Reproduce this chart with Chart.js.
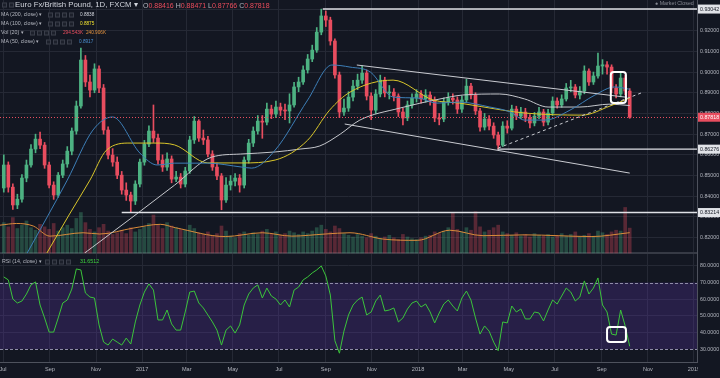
<!DOCTYPE html>
<html>
<head>
<meta charset="utf-8">
<title>Euro Fx/British Pound, 1D</title>
<script src="https://cdn.jsdelivr.net/npm/chart.js@4.4.1/dist/chart.umd.min.js"></script>
<style>
html,body{margin:0;padding:0;background:#131722;overflow:hidden;}
#wrap{position:relative;width:720px;height:378px;}
#c{position:absolute;left:0;top:0;}
.t{position:absolute;white-space:nowrap;font-family:"Liberation Sans",Arial,sans-serif;line-height:1;transform:translateY(-50%);}
.s{font-size:5.3px;color:#b2b5be;}
.v{font-size:4.7px;}
.r{color:#eb4d5c;}
.ic{position:absolute;width:5px;height:5px;border:1px solid #3a3e4a;background:#1c202b;box-sizing:border-box;transform:translateY(-50%);}
</style>
</head>
<body>
<div id="wrap">
<canvas id="c" width="720" height="378"></canvas>
<div class="t" style="left:15px;top:5px;font-size:7.8px;color:#d1d4dc">Euro Fx/British Pound, 1D, FXCM ▾</div>
<div class="t" style="left:143px;top:5px;font-size:7px;color:#b2b5be">O<span class="r">0.88416</span> H<span class="r">0.88471</span> L<span class="r">0.87766</span> C<span class="r">0.87818</span></div>
<div class="t s" style="left:1px;top:15px">MA (200, close) ▾</div>
<div class="t s v" style="left:80px;top:15px;color:#d1d4dc">0.8838</div>
<div class="t s" style="left:1px;top:23.5px">MA (100, close) ▾</div>
<div class="t s v" style="left:80px;top:23.5px;color:#f0e130">0.8875</div>
<div class="t s" style="left:1px;top:32.5px">Vol (20) ▾</div>
<div class="t s v" style="left:63px;top:32.5px;color:#eb4d5c">294.543K</div>
<div class="t s v" style="left:86px;top:32.5px;color:#e3913c">240.906K</div>
<div class="t s" style="left:1px;top:42px">MA (50, close) ▾</div>
<div class="t s v" style="left:79px;top:42px;color:#4a8fd0">0.8917</div>
<div class="t s" style="left:2px;top:262px">RSI (14, close) ▾</div>
<div class="t s" style="left:80px;top:262px;color:#3fd43f">31.6512</div>
<div class="t s" style="left:655px;top:4px;color:#868993">● Market Closed</div>
</div>
<script>
// ---------- DATA (x values are days since 2016-07-01) ----------
const monthTickDays   = [0, 62, 123, 184, 243, 304, 365, 427, 488, 549, 608, 669, 730, 792, 853, 914];
const monthTickLabels = ['Jul','Sep','Nov','2017','Mar','May','Jul','Sep','Nov','2018','Mar','May','Jul','Sep','Nov','2019'];
const priceTicks = [0.82, 0.83, 0.84, 0.85, 0.86, 0.87, 0.88, 0.89, 0.90, 0.91, 0.92, 0.93];
const rsiTicks   = [30, 40, 50, 60, 70, 80];

const FIRST_DAY = 1, STEP_DAYS = 6, FIRST_OPEN = 0.8440;
const closes = [
0.8551,0.8444,0.8358,0.8386,0.8488,0.8551,0.8628,0.8676,0.8647,0.8551,
0.8454,0.8406,0.8502,0.8556,0.8618,0.8715,0.8836,0.9058,0.8952,0.8913,
0.9015,0.8923,0.8720,0.8599,0.8565,0.8502,0.8430,0.8406,0.8377,0.8459,
0.8565,0.8652,0.8715,0.8681,0.8575,0.8541,0.8580,0.8483,0.8493,0.8459,
0.8522,0.8672,0.8763,0.8681,0.8672,0.8604,0.8541,0.8498,0.8382,0.8454,
0.8473,0.8488,0.8454,0.8575,0.8657,0.8715,0.8763,0.8758,0.8821,0.8797,
0.8831,0.8816,0.8812,0.8841,0.8928,0.8952,0.9010,0.9063,0.9106,0.9193,
0.9271,0.9251,0.9150,0.8986,0.8807,0.8826,0.8879,0.8932,0.8961,0.8995,
0.8884,0.8816,0.8894,0.8961,0.8899,0.8903,0.8884,0.8807,0.8778,0.8841,
0.8874,0.8894,0.8870,0.8889,0.8865,0.8778,0.8773,0.8855,0.8874,0.8865,
0.8821,0.8865,0.8932,0.8889,0.8812,0.8734,0.8773,0.8739,0.8696,0.8647,
0.8739,0.8729,0.8821,0.8787,0.8807,0.8778,0.8754,0.8787,0.8807,0.8758,
0.8802,0.8860,0.8841,0.8870,0.8923,0.8928,0.8889,0.8908,0.9005,0.8952,
0.8981,0.9029,0.9035,0.9024,0.8923,0.8894,0.8971,0.8908,0.87818];
const highs = [
0.8600,0.8566,0.8460,0.8410,0.8505,0.8575,0.8650,0.8700,0.8710,0.8660,
0.8565,0.8470,0.8515,0.8575,0.8640,0.8730,0.8860,0.9116,0.9080,0.8985,
0.9040,0.9030,0.8940,0.8735,0.8630,0.8590,0.8520,0.8465,0.8420,0.8475,
0.8580,0.8670,0.8740,0.8841,0.8700,0.8600,0.8610,0.8595,0.8520,0.8510,
0.8540,0.8690,0.8785,0.8770,0.8720,0.8690,0.8620,0.8560,0.8510,0.8490,
0.8500,0.8510,0.8505,0.8590,0.8675,0.8735,0.8790,0.8790,0.8850,0.8840,
0.8860,0.8850,0.8845,0.8895,0.8950,0.8975,0.9030,0.9085,0.9130,0.9215,
0.9304,0.9295,0.9265,0.9160,0.9000,0.8870,0.8905,0.8960,0.8990,0.9030,
0.9010,0.8900,0.8915,0.8985,0.8975,0.8935,0.8920,0.8895,0.8825,0.8860,
0.8895,0.8915,0.8910,0.8915,0.8905,0.8880,0.8800,0.8875,0.8900,0.8895,
0.8880,0.8885,0.8965,0.8945,0.8900,0.8825,0.8800,0.8790,0.8755,0.8710,
0.8760,0.8765,0.8840,0.8835,0.8830,0.8825,0.8795,0.8805,0.8830,0.8820,
0.8820,0.8880,0.8875,0.8890,0.8945,0.8960,0.8940,0.8930,0.9030,0.9015,
0.9000,0.9092,0.9060,0.9050,0.9035,0.8940,0.9000,0.8985,0.8920];
const lows = [
0.8420,0.8420,0.8336,0.8340,0.8372,0.8470,0.8540,0.8610,0.8630,0.8535,
0.8440,0.8385,0.8395,0.8490,0.8540,0.8600,0.8700,0.8825,0.8930,0.8880,
0.8900,0.8900,0.8700,0.8580,0.8545,0.8485,0.8410,0.8380,0.8321,0.8360,
0.8445,0.8550,0.8640,0.8660,0.8555,0.8520,0.8525,0.8465,0.8470,0.8440,
0.8445,0.8510,0.8655,0.8665,0.8650,0.8590,0.8525,0.8480,0.8335,0.8370,
0.8430,0.8450,0.8420,0.8440,0.8560,0.8640,0.8700,0.8680,0.8745,0.8775,
0.8780,0.8790,0.8770,0.8754,0.8830,0.8905,0.8940,0.8995,0.9050,0.9095,
0.9180,0.9220,0.9130,0.8970,0.8780,0.8790,0.8810,0.8860,0.8915,0.8945,
0.8865,0.8770,0.8800,0.8880,0.8880,0.8870,0.8860,0.8785,0.8745,0.8765,
0.8825,0.8855,0.8850,0.8855,0.8840,0.8760,0.8745,0.8760,0.8840,0.8845,
0.8800,0.8805,0.8855,0.8870,0.8795,0.8715,0.8720,0.8720,0.8680,0.8628,
0.8640,0.8705,0.8720,0.8770,0.8775,0.8760,0.8730,0.8740,0.8775,0.8740,
0.8745,0.8790,0.8825,0.8830,0.8860,0.8905,0.8875,0.8870,0.8895,0.8935,
0.8940,0.8970,0.8990,0.8990,0.8900,0.8875,0.8880,0.8890,0.87766];
const volumesK = [
360,310,420,290,330,380,300,270,340,310,
280,350,260,300,330,290,410,480,360,280,
250,300,340,260,220,240,270,230,300,250,
280,310,350,450,330,290,360,320,300,280,
270,330,290,240,220,250,210,230,320,260,
200,180,230,250,210,240,220,260,280,230,
250,210,230,260,240,220,250,230,260,300,
330,280,250,320,290,230,210,190,220,200,
180,230,200,170,190,210,180,160,220,190,
170,160,180,200,210,250,230,260,300,480,
280,250,300,270,490,310,250,270,300,330,
250,230,210,240,200,220,190,230,210,200,
220,190,210,230,200,220,250,190,210,230,
200,260,240,220,250,270,260,540,295];
const rsiValues = [
73.4,71.6,60.1,57.7,58.9,63.1,68.6,70.4,56.5,48.7,
40.2,40.2,48.7,57.7,59.5,66.1,78.2,77.6,63.7,61.3,
60.7,44.5,34.2,32.4,36.0,34.2,32.4,36.6,33.0,46.3,
56.5,64.3,69.2,65.5,47.5,47.5,53.5,45.1,41.4,41.4,
52.3,64.3,64.9,57.7,54.7,50.5,46.3,41.4,32.4,41.4,
43.9,39.6,44.5,56.5,63.1,66.7,68.6,60.7,66.7,61.9,
60.1,56.5,59.5,55.3,65.5,67.3,71.6,73.4,75.8,77.6,
80.0,74.0,62.5,35.0,27.5,40.8,50.5,56.5,59.5,61.3,
50.5,52.3,58.9,62.5,52.9,53.5,54.7,46.3,48.7,54.1,
57.7,58.9,55.3,57.1,52.3,45.7,51.7,57.1,59.5,55.9,
52.9,60.7,64.9,59.5,48.7,39.0,43.9,40.8,34.2,29.0,
46.3,45.7,55.9,52.3,54.1,48.1,48.1,52.3,51.7,46.9,
53.5,59.5,57.1,61.9,66.7,64.3,58.9,61.3,71.0,63.1,
66.7,72.8,56.5,52.3,39.0,38.4,53.5,43.9,31.65];

const ma200Days = [108,168,227,276,314,360,393,419,446,472,525,578,608,657,690,721,763,803,829];
const ma200Vals = [0.8126,0.8290,0.8454,0.8589,0.8604,0.8614,0.8628,0.8643,0.8700,0.8768,0.8826,0.8870,0.8889,0.8894,0.8870,0.8831,0.8831,0.8845,0.8838];
const ma100Days = [58,88,115,137,168,201,227,271,316,360,403,432,459,516,569,604,661,690,766,803,829];
const ma100Vals = [0.8126,0.8314,0.8478,0.8623,0.8657,0.8657,0.8648,0.8561,0.8561,0.8575,0.8671,0.8816,0.8903,0.8961,0.8865,0.8850,0.8816,0.8802,0.8792,0.8836,0.8875];
const ma50Days = [32,85,119,145,181,204,227,271,316,329,360,403,435,459,486,516,548,574,604,644,671,690,717,750,783,809,829];
const ma50Vals = [0.8126,0.8478,0.8720,0.8783,0.8609,0.8551,0.8560,0.8560,0.8541,0.8536,0.8623,0.8865,0.9034,0.9024,0.9000,0.8879,0.8875,0.8850,0.8855,0.8831,0.8807,0.8768,0.8768,0.8816,0.8889,0.8928,0.8917];
const volMaDays = [-4,18,40,62,106,128,172,208,228,294,343,382,426,459,503,548,591,635,690,779,829];
const volMaK    = [330,350,320,200,240,225,295,340,300,195,240,200,225,240,165,150,270,205,215,195,241];

const LAST_PRICE = 0.87818;
const levelPrices   = [0.93042, 0.86276, 0.83214];
const levelFromDays = [423, 654, 157];
const upperLineDays = [468, 823], upperLinePrices = [0.9034, 0.8879];
const lowerLineDays = [452, 829], lowerLinePrices = [0.8749, 0.8512];
const supportLineDays = [655, 847], supportLinePrices = [0.8633, 0.8903];
const priceBoxDays = [804, 824], priceBoxPrices = [0.9000, 0.8850];
const rsiBoxDays = [799, 824], rsiBoxValues = [43.3, 34.2];
const RSI_BAND = [30, 70];

// ---------- STYLE / LAYOUT ----------
const BG = '#131722', GRID = '#252935', AXIS = '#4e525d', TICK = '#b2b5be';
const UP = '#4db282', DOWN = '#e84d5f';
const VOL_UP = 'rgba(77,178,130,0.33)', VOL_DOWN = 'rgba(232,77,95,0.33)';
const FONT = '"Liberation Sans", Arial, sans-serif';
const PRICE_H = 253, RSI_H = 109;
const VOL_TOP = 3000, VOL_BOTTOM = -VOL_TOP * RSI_H / PRICE_H;

// icon boxes next to legend rows
[[48,15],[48,23.5],[30,32.5],[46,42],[45,262]].forEach(([l, t]) => {
  for (let k = 0; k < 4; k++) {
    const d = document.createElement('div');
    d.className = 'ic'; d.style.left = (l + k * 7) + 'px'; d.style.top = t + 'px';
    document.getElementById('wrap').appendChild(d);
  }
});
[[2,5],[9,5]].forEach(([l, t]) => {
  const d = document.createElement('div');
  d.className = 'ic'; d.style.left = l + 'px'; d.style.top = t + 'px';
  document.getElementById('wrap').appendChild(d);
});

const candleDays = closes.map((_, i) => FIRST_DAY + i * STEP_DAYS);
const opens = [FIRST_OPEN, ...closes.slice(0, -1)];
const isUp = i => closes[i] >= opens[i];
const pts = (xs, ys) => xs.map((d, i) => ({x: d, y: ys[i]}));

const panes = {
  id: 'panes',
  beforeDraw(chart) {
    const c = chart.ctx; c.save(); c.fillStyle = BG; c.fillRect(0, 0, chart.width, chart.height); c.restore();
  },
  beforeDatasetsDraw(chart) {
    const {ctx: c, chartArea: a, scales: {rsi, y}} = chart;
    const yHi = rsi.getPixelForValue(RSI_BAND[1]), yLo = rsi.getPixelForValue(RSI_BAND[0]);
    c.save();
    c.fillStyle = 'rgba(98,56,178,0.26)';
    c.fillRect(a.left, yHi, a.right - a.left, yLo - yHi);
    c.strokeStyle = '#8f8ca8'; c.lineWidth = 1; c.setLineDash([3, 2]);
    [yHi, yLo].forEach(py => { c.beginPath(); c.moveTo(a.left, Math.round(py) + 0.5); c.lineTo(a.right, Math.round(py) + 0.5); c.stroke(); });
    c.setLineDash([]);
    c.strokeStyle = '#363a45'; c.lineWidth = 2;
    c.beginPath(); c.moveTo(a.left, y.bottom); c.lineTo(a.right, y.bottom); c.stroke();
    c.restore();
  },
  afterDatasetsDraw(chart) {
    const {ctx: c, chartArea: a, scales: {x, y, rsi}} = chart;
    const seg = (x1, y1, x2, y2) => { c.beginPath(); c.moveTo(x1, y1); c.lineTo(x2, y2); c.stroke(); };
    c.save();
    c.beginPath(); c.rect(a.left, a.top, a.right - a.left, a.bottom - a.top); c.clip();
    c.strokeStyle = DOWN; c.lineWidth = 1; c.setLineDash([1, 2]);
    const lp = Math.round(y.getPixelForValue(LAST_PRICE)) + 0.5;
    seg(a.left, lp, a.right, lp);
    c.setLineDash([]);
    c.strokeStyle = '#dfe1e6'; c.lineWidth = 1.4;
    levelPrices.forEach((p, i) => { const py = y.getPixelForValue(p); seg(x.getPixelForValue(levelFromDays[i]), py, a.right, py); });
    c.strokeStyle = '#c9cbd1'; c.lineWidth = 1;
    seg(x.getPixelForValue(upperLineDays[0]), y.getPixelForValue(upperLinePrices[0]), x.getPixelForValue(upperLineDays[1]), y.getPixelForValue(upperLinePrices[1]));
    seg(x.getPixelForValue(lowerLineDays[0]), y.getPixelForValue(lowerLinePrices[0]), x.getPixelForValue(lowerLineDays[1]), y.getPixelForValue(lowerLinePrices[1]));
    c.setLineDash([3, 3]);
    seg(x.getPixelForValue(supportLineDays[0]), y.getPixelForValue(supportLinePrices[0]), x.getPixelForValue(supportLineDays[1]), y.getPixelForValue(supportLinePrices[1]));
    c.setLineDash([]);
    c.strokeStyle = '#ffffff'; c.lineWidth = 2;
    const rr = (x1, y1, x2, y2) => { c.beginPath(); c.roundRect(x1, y1, x2 - x1, y2 - y1, 3); c.stroke(); };
    rr(x.getPixelForValue(priceBoxDays[0]), y.getPixelForValue(priceBoxPrices[0]), x.getPixelForValue(priceBoxDays[1]), y.getPixelForValue(priceBoxPrices[1]));
    rr(x.getPixelForValue(rsiBoxDays[0]), rsi.getPixelForValue(rsiBoxValues[0]), x.getPixelForValue(rsiBoxDays[1]), rsi.getPixelForValue(rsiBoxValues[1]));
    c.restore();
  },
  afterDraw(chart) {
    const {ctx: c, chartArea: a, scales: {y}} = chart;
    c.save();
    c.fillStyle = BG; c.fillRect(a.right + 1, a.bottom + 1, chart.width, chart.height);
    const tags = [[levelPrices[0], '#e1e3e8', '#131722'], [LAST_PRICE, DOWN, '#ffffff'], [levelPrices[1], '#e1e3e8', '#131722'], [levelPrices[2], '#e1e3e8', '#131722']];
    c.font = '5.3px ' + FONT; c.textBaseline = 'middle';
    tags.forEach(([p, bg, fg]) => {
      const py = y.getPixelForValue(p);
      c.fillStyle = bg; c.fillRect(a.right + 1, py - 4.5, chart.width - a.right - 1, 9);
      c.fillStyle = fg; c.fillText(p.toFixed(5), a.right + 3, py + 0.3);
    });
    c.restore();
  }
};

new Chart(document.getElementById('c'), {
  type: 'bar',
  data: {
    datasets: [
      {type: 'line', label: 'RSI', yAxisID: 'rsi', data: pts(candleDays, rsiValues), borderColor: '#3bc43b', borderWidth: 1, pointRadius: 0, tension: 0, order: 1},
      {type: 'line', label: 'MA 50', yAxisID: 'y', data: pts(ma50Days, ma50Vals), borderColor: '#3d7fb8', borderWidth: 1, pointRadius: 0, cubicInterpolationMode: 'monotone', order: 2},
      {type: 'line', label: 'MA 100', yAxisID: 'y', data: pts(ma100Days, ma100Vals), borderColor: '#d9c62a', borderWidth: 1, pointRadius: 0, cubicInterpolationMode: 'monotone', order: 2},
      {type: 'line', label: 'MA 200', yAxisID: 'y', data: pts(ma200Days, ma200Vals), borderColor: '#c5c7cc', borderWidth: 1, pointRadius: 0, cubicInterpolationMode: 'monotone', order: 2},
      {type: 'bar', label: 'Body', yAxisID: 'y', data: closes.map((cl, i) => ({x: candleDays[i], y: [opens[i], cl]})),
        backgroundColor: ctx => isUp(ctx.dataIndex) ? UP : DOWN, barThickness: 3, minBarLength: 1, grouped: false, borderWidth: 0, order: 4},
      {type: 'bar', label: 'Wick', yAxisID: 'y', data: highs.map((h, i) => ({x: candleDays[i], y: [lows[i], h]})),
        backgroundColor: ctx => isUp(ctx.dataIndex) ? UP : DOWN, barThickness: 1, grouped: false, borderWidth: 0, order: 5},
      {type: 'line', label: 'Vol MA', yAxisID: 'vol', data: pts(volMaDays, volMaK), borderColor: '#d98b3a', borderWidth: 1, pointRadius: 0, cubicInterpolationMode: 'monotone', order: 8},
      {type: 'bar', label: 'Volume', yAxisID: 'vol', data: pts(candleDays, volumesK),
        backgroundColor: ctx => isUp(ctx.dataIndex) ? VOL_UP : VOL_DOWN, barThickness: 3, grouped: false, borderWidth: 0, order: 9}
    ]
  },
  options: {
    responsive: false, animation: false, devicePixelRatio: 1, events: [],
    layout: {padding: 0},
    plugins: {legend: {display: false}, tooltip: {enabled: false}, title: {display: false}},
    scales: {
      x: {
        type: 'linear', min: -4, max: 918, offset: false, bounds: 'data',
        grid: {color: GRID, offset: false, drawTicks: false},
        border: {color: AXIS},
        ticks: {color: TICK, font: {size: 5.6, family: FONT}, padding: 4, autoSkip: false, maxRotation: 0,
          callback: v => { const k = monthTickDays.indexOf(v); return k >= 0 ? monthTickLabels[k] : ''; }},
        afterBuildTicks: s => { s.ticks = monthTickDays.map(v => ({value: v})); },
        afterFit: s => { s.height = 16; s.paddingLeft = 0; s.paddingRight = 0; }
      },
      y: {
        type: 'linear', position: 'right', stack: 'panes', stackWeight: PRICE_H, min: 0.8126, max: 0.9348, bounds: 'data',
        grid: {color: GRID, drawTicks: false}, border: {color: AXIS},
        ticks: {color: TICK, font: {size: 5.3, family: FONT}, padding: 3, autoSkip: false, callback: v => v.toFixed(5)},
        afterBuildTicks: s => { s.ticks = priceTicks.map(v => ({value: v})); },
        afterFit: s => { s.width = 23; s.paddingTop = 0; s.paddingBottom = 0; }
      },
      rsi: {
        type: 'linear', axis: 'y', position: 'right', stack: 'panes', stackWeight: RSI_H, min: 22.2, max: 87.8, bounds: 'data',
        grid: {color: c => (c.tick && RSI_BAND.includes(c.tick.value)) ? 'rgba(0,0,0,0)' : GRID, drawTicks: false}, border: {color: AXIS},
        ticks: {color: TICK, font: {size: 5.3, family: FONT}, padding: 3, autoSkip: false, callback: v => v.toFixed(4)},
        afterBuildTicks: s => { s.ticks = rsiTicks.map(v => ({value: v})); },
        afterFit: s => { s.width = 23; s.paddingTop = 0; s.paddingBottom = 0; }
      },
      vol: {type: 'linear', axis: 'y', position: 'left', display: false, min: VOL_BOTTOM, max: VOL_TOP, bounds: 'data'}
    }
  },
  plugins: [panes]
});
</script>
</body>
</html>
